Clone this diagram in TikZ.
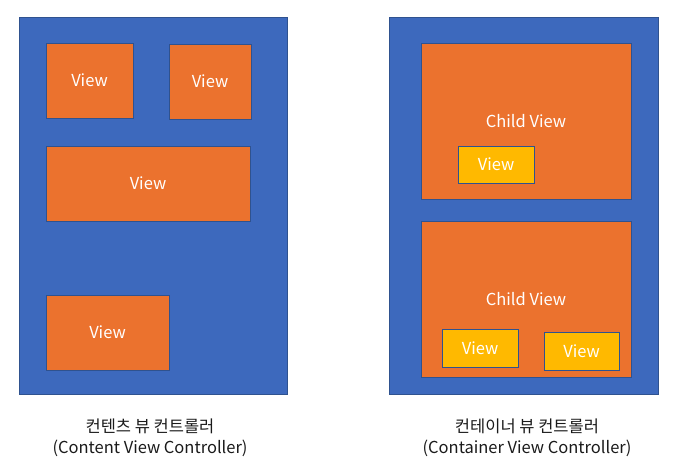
\documentclass[tikz,border=0pt]{standalone}
\usepackage{fontspec}
\setmainfont{Noto Sans CJK KR}
\definecolor{outerblue}{HTML}{3D69BD}
\definecolor{edgeblue}{HTML}{2F528F}
\definecolor{vieworange}{HTML}{EB722E}
\definecolor{viewyellow}{HTML}{FFB900}
\definecolor{captext}{HTML}{1A1A1A}
\tikzset{
  panel/.style={draw=edgeblue, line width=0.8pt, fill=outerblue, inner sep=0pt},
  viewbox/.style={draw=edgeblue, line width=0.8pt, fill=vieworange, text=white, inner sep=0pt, font=\fontsize{16.5}{19}\selectfont},
  subview/.style={draw=edgeblue, line width=0.8pt, fill=viewyellow, text=white, inner sep=0pt, font=\fontsize{16.5}{19}\selectfont},
  caption/.style={text=captext, align=center, font=\fontsize{16.5}{21}\selectfont}
}
\newcommand{\bx}[6]{% name, style, x1, y1, x2, y2 ; text via next arg
  \node[#2, minimum width={#5-#3}, minimum height={#6-#4}] (#1) at ({(#3+#5)/2},{(#4+#6)/2})}
\begin{document}
\begin{tikzpicture}[x=1pt,y=-1pt]
\useasboundingbox (0,0) rectangle (678,468);
% left panel
\bx{lp}{panel}{19}{17}{287}{394} {};
\bx{v1}{viewbox}{46}{43}{133}{118} {View};
\bx{v2}{viewbox}{169}{44}{251}{119} {View};
\bx{v3}{viewbox}{46}{146}{250}{221} {View};
\bx{v4}{viewbox}{46}{295}{169}{370} {View};
% right panel
\bx{rp}{panel}{389}{17}{658}{394} {};
\bx{c1}{viewbox}{421}{43}{631}{199} {Child View};
\bx{y1}{subview}{458}{146}{534}{183} {View};
\bx{c2}{viewbox}{421}{221}{631}{377} {Child View};
\bx{y2}{subview}{442}{329}{518}{367} {View};
\bx{y3}{subview}{544}{332}{619}{370} {View};
% captions
\node[caption] (lcap) at (150,438) {컨텐츠 뷰 컨트롤러\\(Content View Controller)};
\node[caption] (rcap) at (527,438) {컨테이너 뷰 컨트롤러\\(Container View Controller)};
\end{tikzpicture}
\end{document}
